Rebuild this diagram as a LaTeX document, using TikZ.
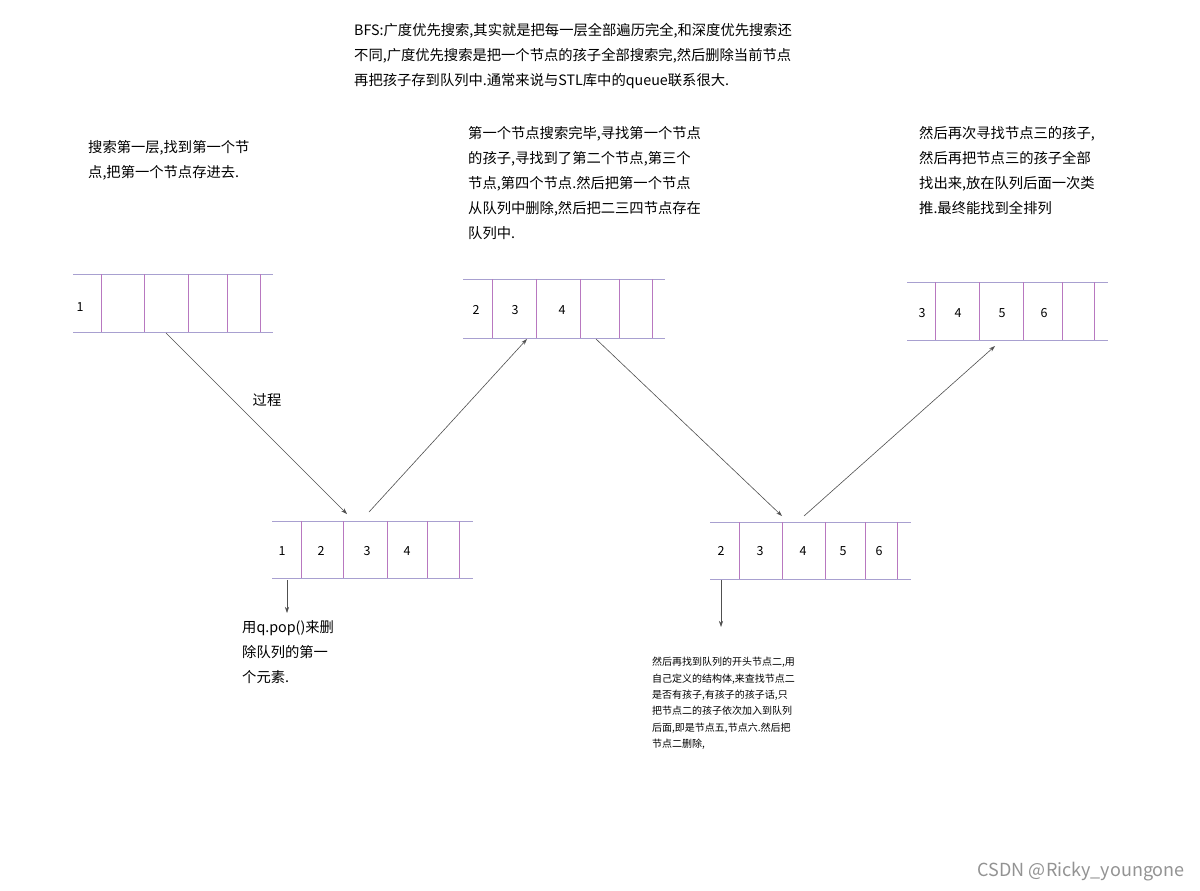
\documentclass[tikz,border=0pt]{standalone}
\usepackage{fontspec}
\setmainfont{Noto Sans CJK SC}
\usetikzlibrary{arrows.meta}
\definecolor{hline}{HTML}{A8A0D0}
\definecolor{vline}{HTML}{B878C0}
\definecolor{arr}{HTML}{505050}
\tikzset{
  qh/.style={draw=hline, line width=0.9pt},
  qv/.style={draw=vline, line width=0.9pt},
  num/.style={font=\fontsize{12.5}{14}\selectfont, inner sep=0pt, anchor=center},
  txt/.style={font=\fontsize{14.3}{25}\selectfont, inner sep=0pt, anchor=north west, align=left},
  small/.style={font=\fontsize{10}{16.4}\selectfont, inner sep=0pt, anchor=north west, align=left},
  conn/.style={draw=arr, line width=0.6pt, -{Stealth[length=6pt,width=4pt]}},
}
\begin{document}
\begin{tikzpicture}[x=1pt,y=-1pt]
\useasboundingbox (0,0) rectangle (1200,891);
\fill[white] (0,0) rectangle (1200,891);
% queue 1
\draw[qh] (73,274) -- (273,274); \draw[qh] (73,332) -- (273,332);
\foreach \x in {101,144,188,227,260} \draw[qv] (\x,274) -- (\x,332);
\node[num] (q1a) at (80,307) {1};
% queue 2
\draw[qh] (463,279) -- (665,279); \draw[qh] (463,338) -- (665,338);
\foreach \x in {492,536,580,619,652} \draw[qv] (\x,279) -- (\x,338);
\node[num] (q2a) at (476,310) {2};
\node[num] (q2b) at (515,310) {3};
\node[num] (q2c) at (562,310) {4};
% queue 3
\draw[qh] (907,282) -- (1108,282); \draw[qh] (907,340) -- (1108,340);
\foreach \x in {935,979,1023,1062,1094} \draw[qv] (\x,282) -- (\x,340);
\node[num] (q3a) at (922,313) {3};
\node[num] (q3b) at (958,313) {4};
\node[num] (q3c) at (1002,313) {5};
\node[num] (q3d) at (1044,313) {6};
% queue 4
\draw[qh] (272,521) -- (473,521); \draw[qh] (272,578) -- (473,578);
\foreach \x in {301,343,387,427,459} \draw[qv] (\x,521) -- (\x,578);
\node[num] (q4a) at (282,551) {1};
\node[num] (q4b) at (321,551) {2};
\node[num] (q4c) at (367,551) {3};
\node[num] (q4d) at (407,551) {4};
% queue 5
\draw[qh] (710,522) -- (911,522); \draw[qh] (710,579) -- (911,579);
\foreach \x in {739,782,825,865,897} \draw[qv] (\x,522) -- (\x,579);
\node[num] (q5a) at (721,551) {2};
\node[num] (q5b) at (760,551) {3};
\node[num] (q5c) at (803,551) {4};
\node[num] (q5d) at (843,551) {5};
\node[num] (q5e) at (879,551) {6};
% connector endpoints
\coordinate (a1s) at (166,333); \coordinate (a1e) at (347,514);
\coordinate (a2s) at (369,512); \coordinate (a2e) at (527,339);
\coordinate (a3s) at (596,339); \coordinate (a3e) at (782,516);
\coordinate (a4s) at (804,516); \coordinate (a4e) at (995,346);
\coordinate (a5s) at (287,580); \coordinate (a5e) at (287,613);
\coordinate (a6s) at (721,580); \coordinate (a6e) at (721,627);
\draw[conn] (a1s) -- (a1e);
\draw[conn] (a2s) -- (a2e);
\draw[conn] (a3s) -- (a3e);
\draw[conn] (a4s) -- (a4e);
\draw[conn] (a5s) -- (a5e);
\draw[conn] (a6s) -- (a6e);
\node[font=\fontsize{14.3}{16}\selectfont, inner sep=0pt] (proc) at (267,400) {过程};
% texts
\node[txt] (top) at (354,23) {BFS:广度优先搜索,其实就是把每一层全部遍历完全,和深度优先搜索还\\不同,广度优先搜索是把一个节点的孩子全部搜索完,然后删除当前节点\\再把孩子存到队列中.通常来说与STL库中的queue联系很大.};
\node[txt] (tl) at (88,140) {搜索第一层,找到第一个节\\点,把第一个节点存进去.};
\node[txt] (tm) at (468,126) {第一个节点搜索完毕,寻找第一个节点\\的孩子,寻找到了第二个节点,第三个\\节点,第四个节点.然后把第一个节点\\从队列中删除,然后把二三四节点存在\\队列中.};
\node[txt] (tr) at (919,126) {然后再次寻找节点三的孩子,\\然后再把节点三的孩子全部\\找出来,放在队列后面一次类\\推.最终能找到全排列};
\node[txt] (bl) at (242,620) {用q.pop()来删\\除队列的第一\\个元素.};
\node[small] (br) at (652,657) {然后再找到队列的开头节点二,用\\自己定义的结构体,来查找节点二\\是否有孩子,有孩子的孩子话,只\\把节点二的孩子依次加入到队列\\后面,即是节点五,节点六.然后把\\节点二删除,};
\node[font=\fontsize{18}{19}\selectfont, text=gray!85, inner sep=0pt, anchor=east] (wm) at (1185,872) {CSDN @Ricky\_youngone};
\end{tikzpicture}
\end{document}
